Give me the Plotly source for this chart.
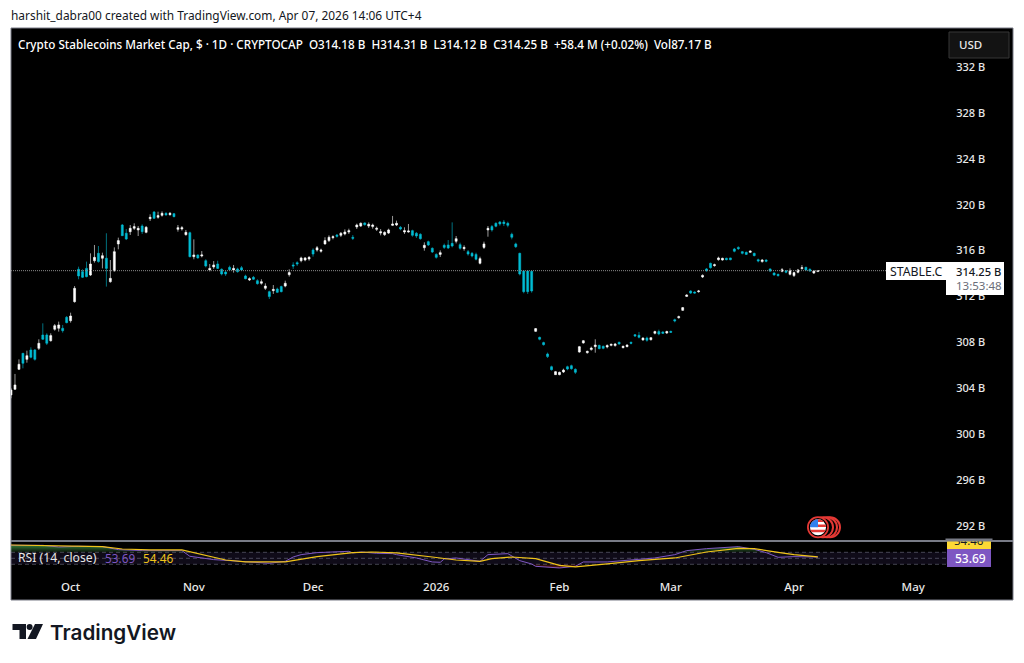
import math
from datetime import date, timedelta
import plotly.graph_objects as go

START = date(2025, 9, 16)
opens = [303.42,303.91,305.65,307.05,306.52,307.34,307.34,307.48,308.64,308.64,308.15,309.14,309.23,309.23,310.18,309.89,311.55,314.37,314.16,314.45,313.87,315.12,315.76,315.33,315.33,313.29,314.25,316.58,318.23,317.51,
317.65,317.94,317.80,318.14,317.59,318.78,319.36,318.90,319.07,319.25,319.13,319.22,317.85,317.88,317.39,317.56,315.47,315.62,315.53,315.12,314.31,314.57,314.83,314.37,314.13,314.54,314.31,314.40,314.51,313.79,
313.44,313.67,313.38,313.15,312.71,312.42,312.51,312.65,312.86,312.91,313.90,314.75,314.95,315.12,315.18,315.27,316.05,316.05,315.94,316.58,316.87,317.13,317.36,317.33,317.45,317.62,317.16,318.06,318.14,318.41,
318.14,318.09,317.85,317.53,317.39,317.53,318.20,318.23,318.03,317.62,317.62,317.74,317.51,317.42,316.25,316.78,316.20,315.67,315.67,316.46,316.49,316.63,316.81,316.52,316.17,315.91,315.76,315.67,314.89,316.28,
317.80,318.09,318.38,318.49,318.49,318.38,317.42,316.58,315.76,314.22,314.22,314.19,308.96,308.44,307.98,306.99,305.88,305.19,305.19,305.42,305.88,305.97,305.65,307.16,307.95,307.10,307.37,307.63,307.74,307.66,
307.60,307.74,307.72,308.01,307.54,307.63,308.01,308.67,308.62,308.21,308.38,308.24,308.79,308.94,308.91,308.82,308.96,309.98,310.15,310.79,312.01,312.48,312.39,312.42,313.70,314.40,314.89,314.69,315.21,315.18,
315.33,315.36,316.14,316.28,315.91,315.85,315.85,315.76,315.21,315.04,315.18,314.40,314.05,313.93,314.19,314.25,313.93,313.82,314.11,314.43,314.54,314.37,314.05,314.18]
highs = [304.00,305.25,306.52,307.05,307.28,307.57,307.42,308.27,309.66,308.79,308.79,309.60,309.81,309.52,310.30,310.59,312.91,314.60,314.37,315.04,315.76,316.49,316.40,315.82,317.51,315.18,316.28,317.13,318.32,317.88,
318.23,318.38,318.14,318.29,318.14,319.16,319.45,319.39,319.42,319.34,319.36,319.28,318.23,318.14,317.80,317.65,316.98,315.67,315.96,315.24,314.83,315.09,315.12,314.45,314.25,314.69,314.75,314.51,314.66,313.90,
313.67,313.79,313.50,313.50,313.15,312.51,313.00,312.77,312.94,313.38,314.37,314.98,315.07,315.47,315.44,315.53,316.20,316.40,316.17,317.16,317.33,317.33,317.45,317.62,317.85,317.91,317.36,318.35,318.46,318.46,
318.46,318.35,318.09,317.88,317.68,317.91,319.02,318.61,318.14,318.03,318.32,317.82,317.62,317.51,316.72,316.87,316.28,315.76,316.02,316.61,316.92,318.46,317.27,316.69,316.46,316.05,315.88,315.82,315.47,316.78,
318.14,318.23,318.46,318.58,318.67,318.52,317.56,316.69,315.82,314.28,314.28,314.25,309.25,308.50,308.06,307.11,305.97,305.51,305.45,305.71,305.97,306.06,305.74,307.69,308.21,307.28,307.63,308.27,307.80,307.72,
307.83,307.89,307.95,308.06,307.72,307.83,308.06,308.73,308.91,308.44,308.50,308.47,309.02,309.11,308.96,309.02,309.02,310.07,310.33,311.08,312.19,312.54,312.45,312.57,313.93,314.48,314.95,314.86,315.47,315.38,
315.38,315.38,316.23,316.37,315.96,315.91,316.02,315.82,315.30,315.27,315.24,314.45,314.11,313.99,314.48,314.31,314.45,314.16,314.40,314.74,314.60,314.45,314.31,314.31]
lows = [303.13,303.85,305.59,305.74,306.23,306.61,306.41,307.34,308.21,307.77,308.06,309.02,308.94,308.85,309.66,309.72,311.46,313.50,313.61,313.67,313.79,314.95,314.95,314.45,312.86,313.20,314.16,316.11,317.27,316.92,
317.36,317.80,317.27,317.45,317.51,318.58,318.75,318.78,318.96,319.05,319.05,318.90,317.65,317.74,317.30,315.41,315.24,315.30,315.41,314.54,314.19,314.40,314.40,313.84,313.79,314.25,314.08,314.08,314.22,313.50,
313.35,313.44,313.03,313.03,312.57,311.78,312.22,312.30,312.36,312.80,313.73,314.40,314.66,314.98,315.07,315.12,315.47,315.91,315.82,316.52,316.75,316.98,317.13,317.18,317.33,317.45,316.92,317.88,318.06,318.17,
317.97,317.91,317.71,317.33,317.27,317.45,318.14,318.14,317.77,317.45,317.56,317.21,317.10,316.95,315.99,316.40,315.79,315.30,315.44,316.14,316.14,316.28,316.63,316.08,315.99,315.56,315.41,315.15,314.80,316.14,
317.21,317.65,318.03,318.17,318.14,318.03,316.98,316.23,313.84,312.28,312.22,312.33,308.91,308.18,307.72,306.64,305.54,305.16,305.13,305.33,305.57,305.62,305.25,307.10,307.89,307.02,307.28,307.10,307.40,307.40,
307.48,307.66,307.63,307.80,307.48,307.57,307.83,308.47,308.35,308.15,308.06,308.15,308.70,308.62,308.73,308.73,308.82,309.75,310.07,310.74,311.96,312.22,312.25,312.33,313.61,314.16,314.43,314.60,315.12,315.12,
315.15,315.15,315.85,316.05,315.67,315.62,315.79,315.50,314.98,314.95,314.98,314.13,313.82,313.73,314.11,314.02,313.84,313.70,314.02,314.34,314.25,314.16,313.96,314.12]
closes = [303.85,304.29,306.09,306.18,306.84,306.70,306.52,307.92,308.27,307.92,308.59,309.46,309.52,309.02,309.72,310.30,312.71,313.79,313.67,313.73,314.83,315.41,315.04,315.56,314.45,313.58,315.91,316.87,317.30,317.01,
317.94,318.09,317.94,317.65,318.03,318.90,318.81,319.05,319.25,319.10,319.25,318.96,318.00,318.00,317.59,315.47,315.62,315.36,315.62,314.66,314.45,314.75,314.45,313.96,313.96,314.34,314.45,314.16,314.31,313.55,
313.55,313.50,313.12,313.29,312.91,311.99,312.62,312.36,312.42,313.15,314.08,314.66,314.83,315.36,315.36,315.41,315.70,316.25,316.05,316.87,317.16,317.21,317.24,317.51,317.62,317.74,317.07,318.23,318.38,318.26,
318.29,318.23,317.94,317.65,317.59,317.80,318.32,318.38,317.88,317.74,317.71,317.33,317.27,317.04,316.46,316.49,315.88,315.41,315.82,316.28,316.23,316.40,317.04,316.20,316.28,315.70,315.53,315.24,315.30,316.58,
317.94,317.80,318.12,318.32,318.35,318.20,317.16,316.34,313.96,312.42,312.42,312.48,309.20,308.27,307.80,306.76,305.62,305.45,305.39,305.59,305.68,305.71,305.39,307.63,308.15,307.22,307.51,307.77,307.45,307.48,
307.72,307.83,307.86,307.86,307.66,307.77,307.92,308.56,308.44,308.38,308.18,308.41,308.94,308.73,308.79,308.94,308.88,309.87,310.24,311.03,312.13,312.30,312.30,312.48,313.84,314.25,314.51,314.77,315.36,315.33,
315.21,315.21,315.94,316.17,315.76,315.67,315.96,315.56,315.09,315.18,315.07,314.22,313.87,313.82,314.34,314.11,314.25,314.08,314.31,314.51,314.31,314.22,314.22,314.25]

rsi_days = [0,8,12,17,23,27,33,43,45,49,51,55,60,65,69,71,73,77,85,86,88,92,96,97,102,106,108,109,112,118,120,125,128,131,132,138,142,144,150,157,162,167,170,175,183,187,190,193,197,202,203]
rsi_vals = [93.3,93.3,87.8,90.0,88.9,78.9,75.6,75.6,56.7,48.9,45.6,42.2,37.8,33.3,40.0,54.4,62.2,68.9,73.3,67.8,71.1,66.7,65.6,62.2,51.1,37.8,36.7,47.8,51.1,40.0,62.2,65.6,42.2,31.1,23.3,17.8,23.3,37.8,37.8,46.7,51.1,62.2,75.6,82.2,88.9,80.0,68.9,53.3,55.6,54.5,53.69]
ma_days = [0,8,17,23,28,35,43,48,54,59,65,69,77,86,91,97,106,112,118,121,126,132,138,142,150,158,167,175,183,187,193,197,203]
ma_vals = [94.4,92.2,91.1,88.9,81.1,77.8,77.8,62.2,44.4,37.8,36.7,37.8,55.6,68.9,71.1,67.8,54.4,44.4,40.0,48.9,54.4,48.9,26.7,21.1,31.1,42.2,51.1,71.1,83.3,82.2,70.0,62.2,54.46]

y_ticks = [292,296,300,304,308,312,316,320,324,328,332]
y_labels = [f"{v} B" for v in y_ticks]
month_ticks = ["2025-10-01","2025-11-01","2025-12-01","2026-01-01","2026-02-01","2026-03-01","2026-04-01","2026-05-01"]
month_labels = ["Oct","Nov","Dec","2026","Feb","Mar","Apr","May"]

WHITE = "#ffffff"; TEAL = "#00bcd4"; PURPLE = "#7e57c2"; YELLOW = "#f0c419"; GREY = "#787b86"
FONT = "Noto Sans"
def d(i): return (START + timedelta(days=i)).isoformat()
def X(p): return p / 1024
def Y(p): return 1 - p / 663

dates = [d(i) for i in range(len(opens))]
fig = go.Figure()
fig.add_trace(go.Candlestick(x=dates, open=opens, high=highs, low=lows, close=closes, xaxis="x", yaxis="y",
    increasing=dict(line=dict(color=WHITE, width=0.6), fillcolor=WHITE),
    decreasing=dict(line=dict(color=TEAL, width=0.6), fillcolor=TEAL), whiskerwidth=0, showlegend=False, hoverinfo="skip"))
rx = [d(i) for i in rsi_days]
fig.add_trace(go.Scatter(x=rx, y=[70]*len(rx), yaxis="y2", mode="lines", line=dict(width=0), showlegend=False, hoverinfo="skip"))
fig.add_trace(go.Scatter(x=rx, y=[max(v,70) for v in rsi_vals], yaxis="y2", mode="lines", line=dict(width=0), fill="tonexty",
    fillgradient=dict(type="vertical", start=70, stop=100, colorscale=[[0,"rgba(76,175,80,0.1)"],[1,"rgba(76,175,80,0.85)"]]), showlegend=False, hoverinfo="skip"))
fig.add_trace(go.Scatter(x=rx, y=[30]*len(rx), yaxis="y2", mode="lines", line=dict(width=0), showlegend=False, hoverinfo="skip"))
fig.add_trace(go.Scatter(x=rx, y=[min(v,30) for v in rsi_vals], yaxis="y2", mode="lines", line=dict(width=0), fill="tonexty",
    fillgradient=dict(type="vertical", start=30, stop=0, colorscale=[[0,"rgba(244,67,54,0.1)"],[1,"rgba(244,67,54,0.85)"]]), showlegend=False, hoverinfo="skip"))
fig.add_trace(go.Scatter(x=rx, y=rsi_vals, yaxis="y2", mode="lines", line=dict(color=PURPLE, width=1), showlegend=False, hoverinfo="skip"))
fig.add_trace(go.Scatter(x=[d(i) for i in ma_days], y=ma_vals, yaxis="y2", mode="lines", line=dict(color=YELLOW, width=1.2), showlegend=False, hoverinfo="skip"))

shapes = []
def rect(x0,y0,x1,y1,fill,line=None,w=1,layer="below"):
    shapes.append(dict(type="rect",xref="paper",yref="paper",x0=X(x0),x1=X(x1),y0=Y(y0),y1=Y(y1),fillcolor=fill,line=dict(color=line or "rgba(0,0,0,0)",width=w if line else 0),layer=layer))
def circ(cx,cy,r,fill,layer="above"):
    shapes.append(dict(type="circle",xref="paper",yref="paper",x0=X(cx-r),x1=X(cx+r),y0=Y(cy+r),y1=Y(cy-r),fillcolor=fill,line=dict(width=0),layer=layer))
def poly(pts,fill):
    p = "M " + " L ".join(f"{X(a):.5f},{Y(b):.5f}" for a,b in pts) + " Z"
    shapes.append(dict(type="path",xref="paper",yref="paper",path=p,fillcolor=fill,line=dict(width=0),layer="above"))

rect(11,28,1013,600,"#000000",GREY,1)
shapes.append(dict(type="line",xref="paper",yref="paper",x0=X(11),x1=X(1013),y0=Y(541),y1=Y(541),line=dict(color=GREY,width=2),layer="above"))
shapes.append(dict(type="rect",xref="x",yref="y2",x0=d(0),x1="2026-05-09 12:00",y0=30,y1=70,fillcolor="rgba(126,87,194,0.12)",line=dict(width=0),layer="below"))
for lv in (70,50,30):
    shapes.append(dict(type="line",xref="paper",yref="y2",x0=X(11),x1=X(947),y0=lv,y1=lv,line=dict(color="rgba(120,123,134,0.55)",width=1,dash="4px,3px"),layer="below"))
shapes.append(dict(type="line",xref="paper",yref="y",x0=X(11),x1=X(886),y0=closes[-1],y1=closes[-1],line=dict(color="#8a8a8a",width=1,dash="1px,1px"),layer="above"))
rect(886,262,946,280,WHITE,None,0,"above")
rect(946,262,1004,295,WHITE,None,0,"above")
rect(949,32,1009,58,"#131313","#363636",1,"above")
rect(947,541,991,549,"#fdd835",None,0,"above")
rect(947,549,991,567,PURPLE,None,0,"above")
for cx in (830,827,823):
    circ(cx,527.3,11,"#e53935"); circ(cx,527.3,9,"#000000")
circ(818,527.3,11,"#e53935"); circ(818,527.3,9.2,"#000000"); circ(818,527.3,8,"#ffffff")
r=8; cx=818; cy=527.3
for a,b in ((-8,-5.4),(-2.8,-0.2),(2.4,5)):
    ys=[a+(b-a)*k/6 for k in range(7)]
    hw=[math.sqrt(max(r*r-v*v,0)) for v in ys]
    poly([(cx-h,cy+v) for h,v in zip(hw,ys)]+[(cx+h,cy+v) for h,v in reversed(list(zip(hw,ys)))],"#e53935")
poly([(cx-r*math.cos(t*math.pi/16),cy-r*math.sin(t*math.pi/16)) for t in range(9)]+[(cx,cy)],"#2f80ed")
LOGO="#131722"
poly([(12.5,624),(26,624),(26,639),(19.5,639),(19.5,630),(12.5,630)],LOGO)
circ(29.6,627,3,LOGO)
poly([(35,624),(43,624),(36,639),(27.5,639)],LOGO)

ann=[]
def txt(x,y,s,color,size=11.5,anchor="left",weight=None,family=FONT):
    f=dict(color=color,size=size,family=family)
    if weight: f["weight"]=weight
    ann.append(dict(xref="paper",yref="paper",x=X(x),y=Y(y),text=s,showarrow=False,xanchor=anchor,yanchor="middle",font=f,borderpad=0,borderwidth=0))
def strip(x,y0,y1,w,color):
    ann.append(dict(xref="paper",yref="paper",x=X(x),y=Y(y1),text=" ",showarrow=False,xanchor="center",yanchor="bottom",width=w,height=y1-y0,bgcolor=color,borderpad=0,font=dict(size=1)))
txt(11,15,"harshit_dabra00 created with TradingView.com, Apr 07, 2026 14:06 UTC+4","#131722",11.9)
txt(18,44,"Crypto Stablecoins Market Cap, $ · 1D · CRYPTOCAP&nbsp;&nbsp;O314.18 B&nbsp;&nbsp;H314.31 B&nbsp;&nbsp;L314.12 B&nbsp;&nbsp;C314.25 B&nbsp;&nbsp;+58.4 M (+0.02%)&nbsp;&nbsp;Vol87.17 B",WHITE,11.7,weight=500)
txt(970,45,"USD","#e8e8e8",11.5,"center",weight=500)
txt(916.5,271,"STABLE.C","#131722",12.3,"center")
txt(978.5,271,"314.25 B","#131722",11.2,"center",weight=500)
txt(979,285,"13:53:48","#6a6d78",11.5,"center")
txt(969,540,"54.46","#131722",11.5,"center")
strip(969,534,540,46,"#000000")
strip(969,540,542,46,GREY)
txt(970,558,"53.69",WHITE,12,"center",weight=500)
txt(18,557.5,"RSI (14, close)","#e6e6e6",12.2)
txt(105,557.5,"53.69",PURPLE,11.8)
txt(143,557.5,"54.46",YELLOW,11.8)
txt(50,632,"TradingView",LOGO,20.7,weight=600,family="Inter")

fig.update_layout(width=1024,height=663,autosize=False,margin=dict(l=0,r=0,t=0,b=0),paper_bgcolor="#ffffff",plot_bgcolor="rgba(0,0,0,0)",
    showlegend=False,shapes=shapes,annotations=ann,font=dict(family=FONT,size=11.5,color=WHITE),
    xaxis=dict(domain=[X(11),X(947)],anchor="y2",type="date",range=[d(0),"2026-05-09 12:00"],rangeslider=dict(visible=False),showgrid=False,zeroline=False,showline=False,
        tickmode="array",tickvals=month_ticks,ticktext=month_labels,ticks="outside",ticklen=6,tickcolor="rgba(0,0,0,0)",tickfont=dict(color="#e8e8e8",size=11.5,family=FONT,weight=500)),
    yaxis=dict(domain=[Y(541),Y(28)],anchor="x",side="right",range=[290.69,335.40],showgrid=False,zeroline=False,showline=False,
        tickmode="array",tickvals=y_ticks,ticktext=y_labels,ticks="outside",ticklen=6,tickcolor="rgba(0,0,0,0)",tickfont=dict(color="#e8e8e8",size=11,family=FONT,weight=500)),
    yaxis2=dict(domain=[Y(570),Y(541)],anchor="x",range=[11,107.7],showgrid=False,zeroline=False,showline=False,showticklabels=False,ticks=""))
fig.write_html("out.html", config=dict(displayModeBar=False), post_script="document.body.style.margin='0';document.documentElement.style.overflow='hidden';")
